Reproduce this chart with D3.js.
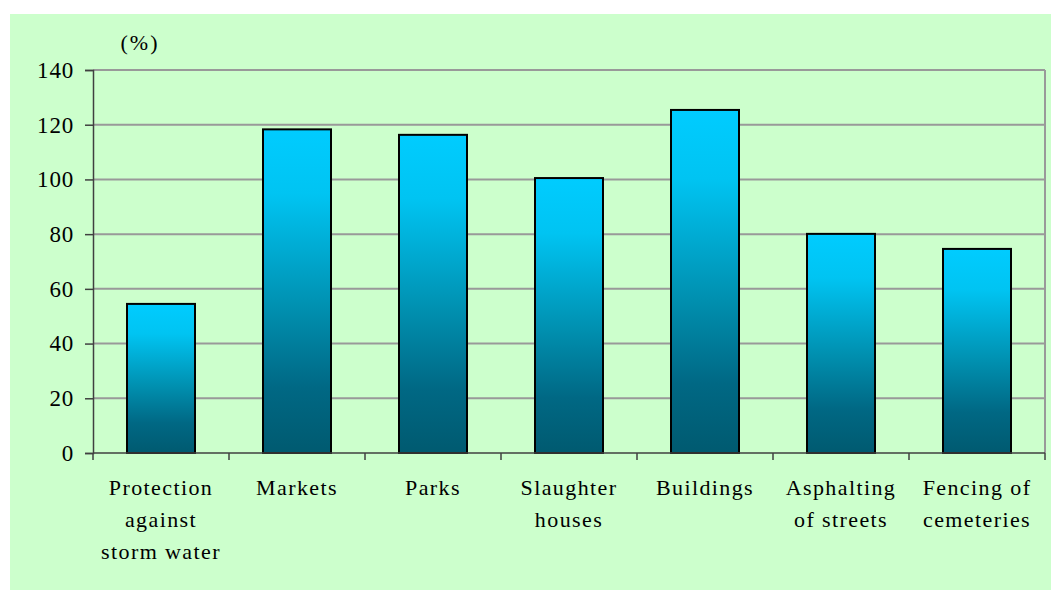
<!DOCTYPE html>
<html>
<head>
<meta charset="utf-8">
<script src="https://cdn.jsdelivr.net/npm/d3@7"></script>
<style>
  html, body { margin: 0; padding: 0; background: #ffffff; }
  svg { display: block; }
</style>
</head>
<body>
<svg id="chart" width="1051" height="591"></svg>
<script>
// Completion rate of municipal works, by type of work
const categories = [
  ["Protection", "against", "storm water"],
  ["Markets"],
  ["Parks"],
  ["Slaughter", "houses"],
  ["Buildings"],
  ["Asphalting", "of streets"],
  ["Fencing of", "cemeteries"]
];
const values = [54.5, 118.3, 116.3, 100.5, 125.4, 80.1, 74.6];
const yTicks = [0, 20, 40, 60, 80, 100, 120, 140];
const unitLabel = "(%)";

const FONT = "'Liberation Serif', 'Times New Roman', serif";
const svg = d3.select("#chart");
const W = 1051;
const plot = { left: 93, right: 1045, top: 70, bottom: 453 };

// chart area background
svg.append("rect")
  .attr("x", 10).attr("y", 14)
  .attr("width", W - 10).attr("height", 576)
  .attr("fill", "#ccffcc");

// bar fill: bright cyan at the top, deep teal at the base
const grad = svg.append("defs").append("linearGradient")
  .attr("id", "barFill")
  .attr("x1", 0).attr("y1", 0).attr("x2", 0).attr("y2", 1);
[["0%", "#00ccff"], ["20%", "#00c4f2"], ["55%", "#0090b0"], ["80%", "#006884"], ["100%", "#005a70"]]
  .forEach(([o, c]) => grad.append("stop").attr("offset", o).attr("stop-color", c));

const x = d3.scaleBand()
  .domain(d3.range(categories.length))
  .range([plot.left, plot.right])
  .paddingInner(0.5)
  .paddingOuter(0.25);

const y = d3.scaleLinear()
  .domain([0, 140])
  .range([plot.bottom, plot.top]);

// horizontal gridlines
svg.append("g")
  .selectAll("line")
  .data(yTicks.filter(d => d > 0))
  .join("line")
  .attr("x1", plot.left).attr("x2", plot.right)
  .attr("y1", d => y(d)).attr("y2", d => y(d))
  .attr("stroke", "#999999")
  .attr("stroke-width", 2);

// right border of the plot area
svg.append("line")
  .attr("x1", plot.right).attr("x2", plot.right)
  .attr("y1", plot.top).attr("y2", plot.bottom)
  .attr("stroke", "#999999")
  .attr("stroke-width", 2);

// bars
svg.append("g")
  .selectAll("rect")
  .data(values)
  .join("rect")
  .attr("x", (d, i) => x(i))
  .attr("y", d => y(d))
  .attr("width", x.bandwidth())
  .attr("height", d => y(0) - y(d))
  .attr("fill", "url(#barFill)")
  .attr("stroke", "#000")
  .attr("stroke-width", 2);

// y axis
const yAxis = svg.append("g")
  .attr("transform", `translate(${plot.left},0)`)
  .call(d3.axisLeft(y).tickValues(yTicks).tickSize(8).tickPadding(11).tickFormat(d3.format("d")));
yAxis.select(".domain").attr("stroke", "#404040").attr("stroke-width", 1.5);
yAxis.selectAll(".tick line").attr("stroke", "#404040").attr("stroke-width", 1.5);
yAxis.selectAll(".tick text")
  .style("font-family", FONT)
  .style("font-size", "23px")
  .style("letter-spacing", "0.8px")
  .attr("fill", "#000");

// x axis with tick marks at the category boundaries
const xAxisG = svg.append("g");
xAxisG.append("line")
  .attr("x1", plot.left).attr("x2", plot.right)
  .attr("y1", plot.bottom).attr("y2", plot.bottom)
  .attr("stroke", "#404040").attr("stroke-width", 1.5);
const step = x.step();
xAxisG.selectAll("line.tk")
  .data(d3.range(categories.length + 1))
  .join("line")
  .attr("class", "tk")
  .attr("x1", i => plot.left + i * step).attr("x2", i => plot.left + i * step)
  .attr("y1", plot.bottom).attr("y2", plot.bottom + 7)
  .attr("stroke", "#404040").attr("stroke-width", 1.5);

// category labels
const labels = svg.append("g")
  .selectAll("text")
  .data(categories)
  .join("text")
  .attr("text-anchor", "middle")
  .style("font-family", FONT)
  .style("font-size", "22px")
  .style("letter-spacing", "1.4px")
  .attr("fill", "#000")
  .attr("transform", (d, i) => `translate(${x(i) + x.bandwidth() / 2},495)`);
labels.selectAll("tspan")
  .data(d => d)
  .join("tspan")
  .attr("x", 0)
  .attr("y", (d, j) => j * 32)
  .text(d => d);

// unit label
svg.append("text")
  .attr("x", 140).attr("y", 50)
  .attr("text-anchor", "middle")
  .style("font-family", FONT)
  .style("font-size", "22px")
  .style("letter-spacing", "2px")
  .attr("fill", "#000")
  .text(unitLabel);
</script>
</body>
</html>
